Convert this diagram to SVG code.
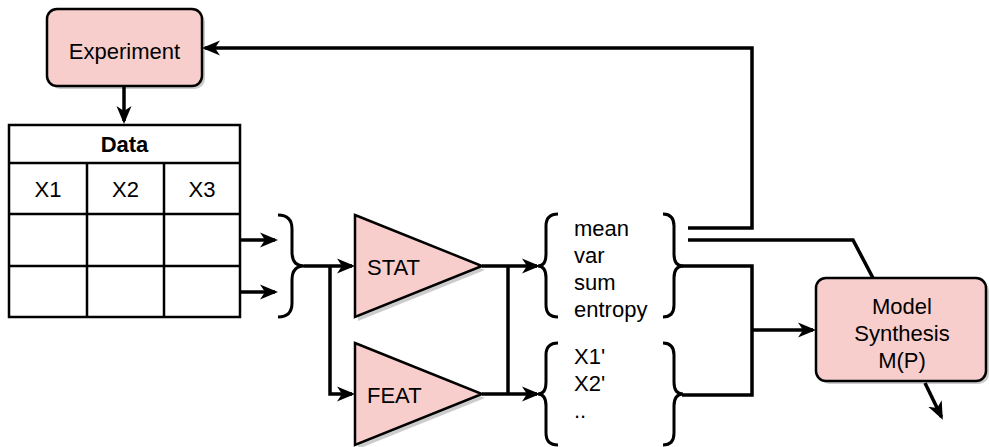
<svg xmlns="http://www.w3.org/2000/svg" width="989" height="447" viewBox="0 0 989 447">
<style>
text{font-family:"Liberation Sans",Arial,sans-serif;font-size:22px;fill:#000}
.node{fill:#f8cecc;stroke:#000;stroke-width:2.5}
.sh{fill:#000;opacity:0.2;stroke:none}
.cell{fill:#fff;stroke:#000;stroke-width:2.5}
.ln{fill:none;stroke:#000;stroke-width:3.5}
.br{fill:none;stroke:#000;stroke-width:3}
</style>
<defs>
<marker id="ah" markerUnits="userSpaceOnUse" markerWidth="18" markerHeight="16" refX="15" refY="8" orient="auto">
<path d="M0,0.5 L18,8 L0,15.5 L5,8 Z" fill="#000"/>
</marker>
</defs>

<g id="connectors">
<path class="ln" d="M124,86 L124,121" marker-end="url(#ah)"/>
<path class="ln" d="M688,228 L752,228 L752,48 L205,48" marker-end="url(#ah)"/>
<path class="ln" d="M688,240 L853,240 L873,278"/>
<path class="ln" d="M240,240 L275,240" marker-end="url(#ah)"/>
<path class="ln" d="M240,292 L275,292" marker-end="url(#ah)"/>
<path class="ln" d="M304,266 L352,266" marker-end="url(#ah)"/>
<path class="ln" d="M330,266 L330,394 L352,394" marker-end="url(#ah)"/>
<path class="ln" d="M482,266 L537,266" marker-end="url(#ah)"/>
<path class="ln" d="M482,394 L537,394" marker-end="url(#ah)"/>
<path class="ln" d="M508,266 L508,394"/>
<path class="ln" d="M682,266 L752,266 L752,395 L682,395"/>
<path class="ln" d="M752,330 L813,330" marker-end="url(#ah)"/>
<path class="ln" d="M925,383 L941.5,417" marker-end="url(#ah)"/>
</g>

<g id="experiment">
<rect class="sh" x="50" y="12" width="155" height="77" rx="10"/>
<rect class="node" x="47" y="9" width="155" height="77" rx="10"/>
<text x="124.5" y="59" text-anchor="middle">Experiment</text>
</g>

<g id="data">
<rect class="cell" x="9" y="125" width="231" height="192"/>
<line class="cell" x1="9" y1="163" x2="240" y2="163"/>
<line class="cell" x1="9" y1="214" x2="240" y2="214"/>
<line class="cell" x1="9" y1="266" x2="240" y2="266"/>
<line class="cell" x1="87" y1="163" x2="87" y2="317"/>
<line class="cell" x1="164" y1="163" x2="164" y2="317"/>
<text x="124.5" y="152" text-anchor="middle" font-weight="bold">Data</text>
<text x="48" y="197" text-anchor="middle">X1</text>
<text x="125.5" y="197" text-anchor="middle">X2</text>
<text x="202" y="197" text-anchor="middle">X3</text>
</g>

<g id="brace-in">
<path class="br" d="M278,215 Q292,215 292,229 L292,252 Q292,266 304,266 Q292,266 292,280 L292,303 Q292,317 278,317"/>
</g>

<g id="stat">
<polygon class="sh" points="358,219 485,270 358,321"/>
<polygon class="node" points="355,215 482,266 355,317"/>
<text x="367" y="275">STAT</text>
</g>

<g id="feat">
<polygon class="sh" points="358,347 485,398 358,449"/>
<polygon class="node" points="355,343 482,394 355,445"/>
<text x="367" y="403">FEAT</text>
</g>

<g id="stats-set">
<path class="br" d="M558,214 Q546,214 546,226 L546,254 Q546,266 538,266 Q546,266 546,278 L546,305 Q546,317 558,317"/>
<path class="br" d="M663,214 Q674,214 674,226 L674,254 Q674,266 683,266 Q674,266 674,278 L674,305 Q674,317 663,317"/>
<text x="574" y="236">mean</text>
<text x="574" y="263">var</text>
<text x="574" y="290">sum</text>
<text x="574" y="317">entropy</text>
</g>

<g id="features-set">
<path class="br" d="M558,343 Q546,343 546,355 L546,382 Q546,394 538,394 Q546,394 546,406 L546,433 Q546,445 558,445"/>
<path class="br" d="M663,343 Q674,343 674,355 L674,382 Q674,394 683,394 Q674,394 674,406 L674,433 Q674,445 663,445"/>
<text x="574" y="364">X1'</text>
<text x="574" y="391">X2'</text>
<text x="574" y="418">..</text>
</g>

<g id="model">
<rect class="sh" x="819" y="281" width="170" height="103" rx="10"/>
<rect class="node" x="816" y="278" width="170" height="103" rx="10"/>
<text x="902" y="314" text-anchor="middle">Model</text>
<text x="902" y="341" text-anchor="middle">Synthesis</text>
<text x="902" y="368" text-anchor="middle">M(P)</text>
</g>
</svg>
